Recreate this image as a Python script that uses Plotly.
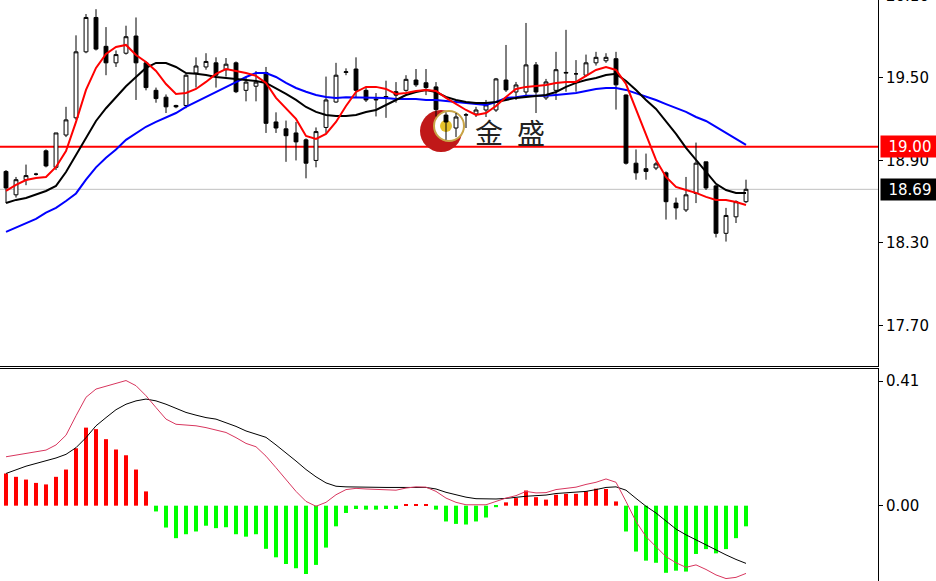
import plotly.graph_objects as go

# ---------------- data ----------------
opens = [18.82, 18.65, 18.76, 18.80, 18.97, 18.85, 19.085, 19.21, 19.69, 19.94,
         19.73, 19.61, 19.68, 19.805, 19.61, 19.41, 19.36, 19.30, 19.30, 19.536,
         19.58, 19.61, 19.56, 19.61, 19.41, 19.44, 19.54, 19.18, 19.13, 19.10,
         19.05, 18.90, 19.14, 19.325, 19.54, 19.565, 19.41, 19.34, 19.36, 19.40,
         19.41, 19.485, 19.465, 19.435, 19.23, 19.136, 19.23, 19.238, 19.267, 19.267,
         19.485, 19.398, 19.398, 19.595, 19.355, 19.41, 19.535, 19.53, 19.52, 19.61,
         19.625, 19.64, 19.376, 18.88, 18.84, 18.845, 18.81, 18.59, 18.54, 18.66,
         18.89, 18.715, 18.37, 18.49, 18.60]
highs = [18.83, 18.78, 18.87, 18.81, 18.98, 19.10, 19.29, 19.81, 19.965, 20.00,
         19.87, 19.70, 19.88, 19.94, 19.62, 19.43, 19.38, 19.305, 19.53, 19.65,
         19.68, 19.65, 19.645, 19.62, 19.51, 19.55, 19.58, 19.25, 19.19, 19.18,
         19.06, 19.14, 19.51, 19.61, 19.57, 19.65, 19.43, 19.39, 19.48, 19.47,
         19.52, 19.565, 19.565, 19.47, 19.25, 19.245, 19.245, 19.29, 19.34, 19.50,
         19.74, 19.471, 19.90, 19.616, 19.493, 19.69, 19.85, 19.63, 19.67, 19.69,
         19.68, 19.69, 19.38, 18.98, 18.95, 18.89, 18.82, 18.63, 18.78, 19.03,
         18.89, 18.72, 18.555, 18.61, 18.76]
lows = [18.59, 18.63, 18.72, 18.79, 18.85, 18.83, 19.07, 19.195, 19.68, 19.70,
        19.52, 19.58, 19.67, 19.34, 19.41, 19.32, 19.245, 19.28, 19.28, 19.43,
        19.56, 19.43, 19.51, 19.39, 19.33, 19.33, 19.10, 19.10, 18.89, 18.90,
        18.77, 18.85, 19.10, 19.32, 19.52, 19.36, 19.325, 19.22, 19.21, 19.32,
        19.40, 19.435, 19.375, 19.22, 19.05, 19.07, 19.136, 19.216, 19.216, 19.253,
        19.398, 19.34, 19.362, 19.245, 19.34, 19.34, 19.40, 19.40, 19.51, 19.59,
        19.61, 19.27, 18.87, 18.76, 18.76, 18.83, 18.47, 18.47, 18.525, 18.59,
        18.685, 18.34, 18.31, 18.445, 18.59]
closes = [18.70, 18.76, 18.79, 18.80, 18.86, 19.10, 19.195, 19.69, 19.94, 19.71,
          19.61, 19.67, 19.80, 19.61, 19.43, 19.35, 19.29, 19.29, 19.52, 19.587,
          19.62, 19.52, 19.60, 19.40, 19.47, 19.47, 19.17, 19.136, 19.08, 19.035,
          18.88, 19.11, 19.34, 19.52, 19.545, 19.41, 19.34, 19.345, 19.365, 19.375,
          19.49, 19.45, 19.43, 19.27, 19.18, 19.216, 19.232, 19.267, 19.304, 19.493,
          19.413, 19.449, 19.595, 19.398, 19.471, 19.56, 19.54, 19.53, 19.61, 19.65,
          19.65, 19.45, 18.88, 18.81, 18.82, 18.875, 18.60, 18.555, 18.65, 18.88,
          18.70, 18.37, 18.50, 18.60, 18.69]

ma_red = [18.678, 18.722, 18.758, 18.773, 18.78, 18.853, 18.969, 19.18, 19.413, 19.573,
          19.675, 19.725, 19.74, 19.667, 19.616, 19.551, 19.456, 19.384, 19.391, 19.42,
          19.471, 19.529, 19.565, 19.551, 19.536, 19.515, 19.464, 19.355, 19.282, 19.202,
          19.078, 19.056, 19.093, 19.18, 19.296, 19.398, 19.435, 19.435, 19.42, 19.384,
          19.391, 19.405, 19.413, 19.405, 19.355, 19.31, 19.267, 19.231, 19.245, 19.296,
          19.362, 19.42, 19.435, 19.442, 19.449, 19.464, 19.471, 19.471, 19.515, 19.558,
          19.58, 19.558, 19.456, 19.275, 19.085, 18.904, 18.78, 18.707, 18.685, 18.664,
          18.635, 18.613, 18.613, 18.598, 18.576]
ma_black = [18.59, 18.613, 18.627, 18.65, 18.678, 18.715, 18.816, 18.94, 19.064, 19.187,
            19.28, 19.36, 19.44, 19.507, 19.573, 19.609, 19.609, 19.58, 19.536, 19.53,
            19.522, 19.507, 19.50, 19.493, 19.485, 19.478, 19.464, 19.427, 19.384, 19.34,
            19.289, 19.253, 19.231, 19.224, 19.224, 19.231, 19.253, 19.267, 19.304, 19.34,
            19.376, 19.398, 19.413, 19.398, 19.362, 19.34, 19.325, 19.318, 19.318, 19.325,
            19.34, 19.355, 19.362, 19.369, 19.376, 19.398, 19.435, 19.464, 19.485, 19.50,
            19.522, 19.53, 19.478, 19.413, 19.34, 19.275, 19.187, 19.093, 18.991, 18.904,
            18.81, 18.73, 18.685, 18.664, 18.664]
ma_blue = [18.38, 18.41, 18.44, 18.475, 18.52, 18.555, 18.605, 18.66, 18.76, 18.85,
           18.92, 18.98, 19.05, 19.10, 19.145, 19.18, 19.215, 19.245, 19.29, 19.325,
           19.36, 19.40, 19.435, 19.47, 19.507, 19.536, 19.536, 19.507, 19.464, 19.427,
           19.40, 19.376, 19.362, 19.355, 19.36, 19.36, 19.36, 19.36, 19.355, 19.347,
           19.347, 19.347, 19.34, 19.34, 19.333, 19.325, 19.318, 19.31, 19.304, 19.325,
           19.355, 19.36, 19.37, 19.37, 19.37, 19.376, 19.384, 19.39, 19.405, 19.42,
           19.427, 19.427, 19.413, 19.39, 19.362, 19.34, 19.31, 19.282, 19.253, 19.216,
           19.187, 19.144, 19.10, 19.056, 19.013]

macd_hist = [0.106, 0.095, 0.086, 0.075, 0.070, 0.095, 0.119, 0.189, 0.257, 0.252,
             0.219, 0.185, 0.166, 0.119, 0.047, -0.019, -0.072, -0.107, -0.094, -0.085,
             -0.066, -0.074, -0.071, -0.094, -0.102, -0.094, -0.142, -0.170, -0.192, -0.206,
             -0.225, -0.195, -0.138, -0.068, -0.024, -0.011, -0.013, -0.013, -0.011, -0.011,
             0.005, 0.005, 0.005, -0.013, -0.052, -0.060, -0.062, -0.052, -0.039, -0.005,
             0.011, 0.025, 0.050, 0.028, 0.020, 0.036, 0.039, 0.039, 0.047, 0.056,
             0.055, 0.014, -0.085, -0.151, -0.181, -0.188, -0.221, -0.214, -0.217, -0.159,
             -0.143, -0.157, -0.143, -0.107, -0.068]
macd_dif = [0.161, 0.166, 0.172, 0.177, 0.183, 0.200, 0.232, 0.296, 0.357, 0.384,
            0.393, 0.401, 0.412, 0.395, 0.362, 0.323, 0.285, 0.268, 0.265, 0.263,
            0.257, 0.249, 0.241, 0.224, 0.205, 0.194, 0.163, 0.125, 0.086, 0.047,
            0.014, -0.002, 0.011, 0.036, 0.053, 0.057, 0.055, 0.053, 0.053, 0.051,
            0.058, 0.062, 0.061, 0.047, 0.025, 0.011, 0.003, 0.002, 0.003, 0.014,
            0.025, 0.033, 0.047, 0.042, 0.043, 0.053, 0.058, 0.061, 0.070, 0.077,
            0.088, 0.077, 0.014, -0.052, -0.102, -0.135, -0.168, -0.188, -0.203, -0.195,
            -0.210, -0.228, -0.240, -0.236, -0.223]
macd_dea = [0.106, 0.118, 0.130, 0.139, 0.147, 0.157, 0.169, 0.191, 0.224, 0.263,
            0.290, 0.316, 0.334, 0.345, 0.351, 0.345, 0.334, 0.320, 0.307, 0.298,
            0.290, 0.285, 0.274, 0.261, 0.246, 0.235, 0.225, 0.200, 0.175, 0.147,
            0.119, 0.095, 0.075, 0.064, 0.062, 0.061, 0.060, 0.060, 0.060, 0.060,
            0.060, 0.060, 0.060, 0.055, 0.044, 0.036, 0.028, 0.023, 0.022, 0.022,
            0.024, 0.028, 0.031, 0.033, 0.035, 0.040, 0.042, 0.044, 0.047, 0.053,
            0.060, 0.062, 0.051, 0.024, -0.002, -0.024, -0.052, -0.077, -0.096, -0.113,
            -0.129, -0.146, -0.162, -0.177, -0.190]

price_ticks = [19.50, 18.90, 18.30, 17.70]
price_tick_text = ["19.50", "18.90", "18.30", "17.70"]
macd_ticks = [0.41, 0.00]
macd_tick_text = ["0.41", "0.00"]
level_red = 19.00
last_price = 18.69

bars = list(range(len(closes)))

# ---------------- geometry helpers ----------------
W, H = 936, 581
PLOT_R = 878
MAIN_B = 366
MACD_T = 369


def px(x):
    return x / W


def py(y):
    return 1 - y / H


FONT = "DejaVu Sans"

fig = go.Figure()

fig.add_trace(go.Candlestick(
    x=bars, open=opens, high=highs, low=lows, close=closes,
    increasing=dict(line=dict(color="#000000", width=1), fillcolor="#FFFFFF"),
    decreasing=dict(line=dict(color="#000000", width=1), fillcolor="#000000"),
    whiskerwidth=0, xaxis="x", yaxis="y", hoverinfo="skip",
))
for vals, col in [(ma_blue, "#0000FF"), (ma_black, "#000000"), (ma_red, "#FF0000")]:
    fig.add_trace(go.Scatter(x=bars, y=vals, mode="lines",
                             line=dict(color=col, width=2), xaxis="x", yaxis="y",
                             hoverinfo="skip"))

hist_colors = ["#FF0000" if v >= 0 else "#00FF00" for v in macd_hist]
fig.add_trace(go.Bar(x=bars, y=macd_hist, marker=dict(color=hist_colors, line=dict(width=0)),
                     width=0.4, xaxis="x2", yaxis="y2", hoverinfo="skip"))
fig.add_trace(go.Scatter(x=bars, y=macd_dea, mode="lines", line=dict(color="#000000", width=1),
                         xaxis="x2", yaxis="y2", hoverinfo="skip"))
fig.add_trace(go.Scatter(x=bars, y=macd_dif, mode="lines", line=dict(color="#D8365E", width=1),
                         xaxis="x2", yaxis="y2", hoverinfo="skip"))

xr = [-0.6, 87.2]
fig.update_layout(
    width=W, height=H, autosize=False, margin=dict(l=0, r=0, t=0, b=0),
    paper_bgcolor="#FFFFFF", plot_bgcolor="#FFFFFF", showlegend=False,
    boxgap=0.45,
    xaxis=dict(domain=[0, px(PLOT_R)], range=xr, anchor="y", showgrid=False, zeroline=False,
               showticklabels=False, showline=True, linecolor="#000000", linewidth=1,
               rangeslider=dict(visible=False), fixedrange=True),
    yaxis=dict(domain=[py(MAIN_B), 1], range=[17.405, 20.067], anchor="x", side="right",
               showgrid=False, zeroline=False, showline=True, linecolor="#000000", linewidth=1,
               ticks="outside", ticklen=4, tickcolor="#000000",
               tickvals=price_ticks, ticktext=price_tick_text,
               tickfont=dict(family=FONT, size=15, color="#000000"), fixedrange=True),
    xaxis2=dict(domain=[0, px(PLOT_R)], range=xr, anchor="y2", side="top", showgrid=False,
                zeroline=False, showticklabels=False, showline=True, linecolor="#000000",
                linewidth=1, fixedrange=True),
    yaxis2=dict(domain=[0, py(MACD_T)], range=[-0.248, 0.450], anchor="x2", side="right",
                showgrid=False, zeroline=False, showline=True, linecolor="#000000", linewidth=1,
                ticks="outside", ticklen=4, tickcolor="#000000",
                tickvals=macd_ticks, ticktext=macd_tick_text,
                tickfont=dict(family=FONT, size=15, color="#000000"), fixedrange=True),
)

# horizontal levels
fig.add_shape(type="line", xref="paper", yref="y", x0=0, x1=px(PLOT_R), y0=last_price, y1=last_price,
              line=dict(color="#C0C0C0", width=1), layer="below")
fig.add_shape(type="line", xref="paper", yref="y", x0=0, x1=px(PLOT_R), y0=level_red, y1=level_red,
              line=dict(color="#FF0000", width=2), layer="below")


# logo (watermark)
def circ(cx, cy, r, fill, line_color=None, lw=0):
    fig.add_shape(type="circle", xref="paper", yref="paper",
                  x0=px(cx - r), x1=px(cx + r), y0=py(cy + r), y1=py(cy - r),
                  fillcolor=fill, line=dict(color=line_color or fill, width=lw), layer="below")


circ(441, 131, 21, "#C01818")
circ(449, 126, 15, "#FFFFFF", "#C8A446", 2)
circ(446, 126, 6, "#E6C22A")
fig.add_annotation(xref="paper", yref="paper", x=px(489), y=py(132), xanchor="center", yanchor="middle",
                   text="金", showarrow=False,
                   font=dict(family="Noto Sans CJK SC", size=28, color="#222222"))
fig.add_annotation(xref="paper", yref="paper", x=px(531), y=py(132), xanchor="center", yanchor="middle",
                   text="盛", showarrow=False,
                   font=dict(family="Noto Sans CJK SC", size=28, color="#222222"))

# price tags and partially visible top label
fig.add_annotation(xref="paper", yref="y", x=px(880), y=level_red, xanchor="left", yanchor="middle",
                   text="19.00", showarrow=False, bgcolor="#FF0000", width=56, height=19,
                   font=dict(family=FONT, size=15, color="#FFFFFF"))
fig.add_annotation(xref="paper", yref="y", x=px(880), y=last_price, xanchor="left", yanchor="middle",
                   text="18.69", showarrow=False, bgcolor="#000000", width=56, height=19,
                   font=dict(family=FONT, size=15, color="#FFFFFF"))
fig.add_annotation(xref="paper", yref="paper", x=px(884), y=py(-4), xanchor="left", yanchor="middle",
                   text="20.10", showarrow=False, font=dict(family=FONT, size=15, color="#000000"))

fig.write_html("out.html", config={"displayModeBar": False},
               post_script="document.body.style.margin='0';document.body.style.padding='0';")
